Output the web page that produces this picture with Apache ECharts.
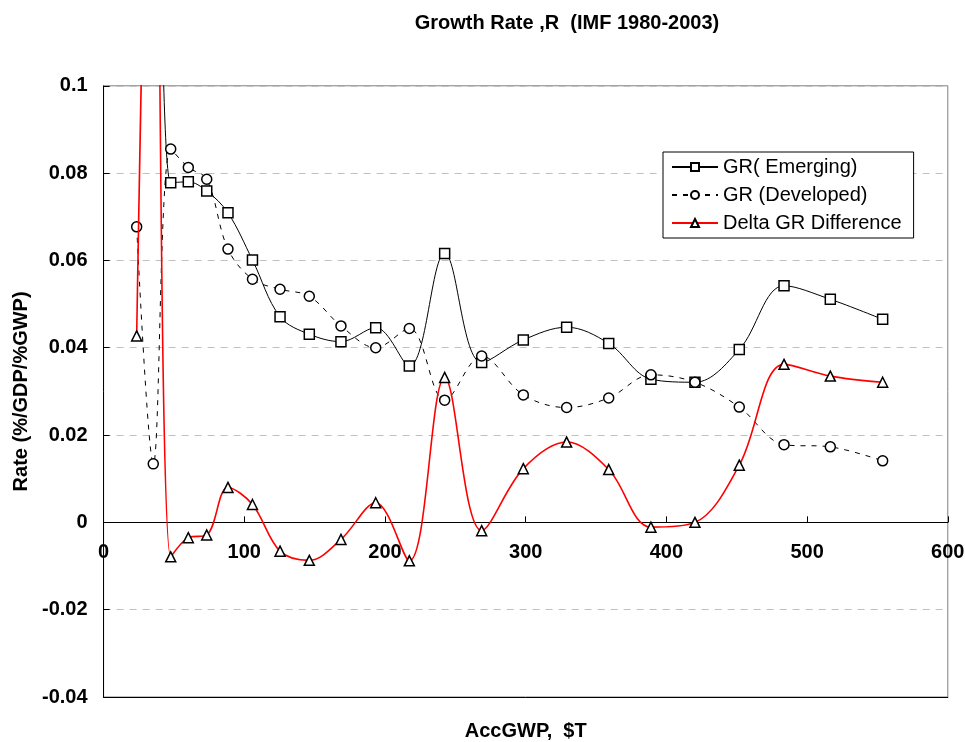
<!DOCTYPE html>
<html><head><meta charset="utf-8">
<script src="https://cdn.jsdelivr.net/npm/echarts@6/dist/echarts.min.js"></script>
<style>html,body{margin:0;padding:0;background:#fff}#c{width:965px;height:742px}</style>
</head><body><div id="c"></div>
<script>
const accGWP = [23.5, 35.3, 47.7, 60.2, 73.3, 88.4, 105.8, 125.4, 146.2, 168.7, 193.4, 217.3, 242.4, 268.7, 298.3, 329.1, 359.0, 389.0, 420.3, 451.8, 483.6, 516.5, 553.7];
const grEmerging = [0.11, 0.21, 0.0778, 0.0780, 0.0759, 0.0709, 0.0601, 0.0471, 0.0431, 0.0414, 0.0446, 0.0358, 0.0616, 0.0366, 0.0418, 0.0447, 0.0410, 0.0328, 0.0321, 0.0396, 0.0542, 0.0511, 0.0465];
const grDeveloped = [0.0677, 0.0134, 0.0855, 0.0813, 0.0786, 0.0626, 0.0557, 0.0534, 0.0518, 0.0450, 0.0400, 0.0444, 0.0280, 0.0381, 0.0292, 0.0263, 0.0285, 0.0338, 0.0321, 0.0264, 0.0178, 0.0173, 0.0141];
const deltaGR = [0.0427, 0.20, -0.0079, -0.0035, -0.0029, 0.0080, 0.0041, -0.0066, -0.0087, -0.0039, 0.0045, -0.0088, 0.0332, -0.0019, 0.0123, 0.0184, 0.0121, -0.0011, 0.0000, 0.0131, 0.0362, 0.0335, 0.0321];
const yTickLabels = ['-0.04', '-0.02', '0', '0.02', '0.04', '0.06', '0.08', '0.1'];
const xTickLabels = ['0', '100', '200', '300', '400', '500', '600'];
const Y_MIN = -0.04, Y_MAX = 0.1;

const FONT = 'Liberation Sans, Arial, sans-serif';
const GRID = {left: 103.6, right: 17.2, top: 85.8, bottom: 45};
const plotH = 742 - GRID.top - GRID.bottom;
const zeroOffset = -plotH * (0 - Y_MIN) / (Y_MAX - Y_MIN);
const pair = arr => accGWP.map((x, i) => [x, arr[i]]);
const chart = echarts.init(document.getElementById('c'), null, {renderer: 'canvas'});
const mk = {color: '#fff', borderColor: '#000', borderWidth: 1.5};
chart.setOption({
  animation: false,
  backgroundColor: '#fff',
  title: {
    text: 'Growth Rate ,R  (IMF 1980-2003)',
    left: 562, top: 8, textAlign: 'center',
    textStyle: {fontFamily: FONT, fontWeight: 'bold', fontSize: 20, color: '#000'}
  },
  legend: {
    orient: 'vertical', left: 663, top: 152,
    backgroundColor: '#fff', borderColor: '#000', borderWidth: 1,
    padding: [5, 12, 5, 8], itemGap: 8, itemWidth: 46, itemHeight: 10,
    textStyle: {fontFamily: FONT, fontSize: 20, color: '#000'},
    data: ['GR( Emerging)', 'GR (Developed)', 'Delta GR Difference']
  },
  grid: Object.assign({show: true, borderColor: '#808080', borderWidth: 1, outerBoundsMode: 'none', containLabel: false}, GRID),
  xAxis: [{
    type: 'value', min: 0, max: 600, interval: 100, position: 'bottom', offset: zeroOffset,
    axisLine: {onZero: false, lineStyle: {color: '#000', width: 1}},
    axisTick: {inside: true, length: 6, lineStyle: {color: '#000'}},
    axisLabel: {fontFamily: FONT, fontWeight: 'bold', fontSize: 20, color: '#000', margin: 20,
      formatter: v => xTickLabels[Math.round(v / 100)]},
    splitLine: {show: false}
  }, {
    type: 'value', min: 0, max: 600, position: 'bottom',
    axisLine: {onZero: false, lineStyle: {color: '#000', width: 1}},
    axisTick: {show: false}, axisLabel: {show: false}, splitLine: {show: false},
    name: 'AccGWP,  $T', nameLocation: 'middle', nameGap: 24,
    nameTextStyle: {fontFamily: FONT, fontWeight: 'bold', fontSize: 20, color: '#000'}
  }],
  yAxis: {
    type: 'value', min: Y_MIN, max: Y_MAX, interval: 0.02,
    axisLine: {show: true, onZero: false, lineStyle: {color: '#000', width: 1}},
    axisTick: {show: true, inside: true, length: 6, lineStyle: {color: '#000'}},
    axisLabel: {fontFamily: FONT, fontWeight: 'bold', fontSize: 20, color: '#000', margin: 16,
      formatter: v => yTickLabels[Math.round((v - Y_MIN) / 0.02)]},
    splitLine: {show: true, lineStyle: {color: '#c0c0c0', type: [7, 6], width: 1}},
    name: 'Rate (%/GDP/%GWP)', nameLocation: 'middle', nameGap: 71, nameRotate: 90,
    nameTextStyle: {fontFamily: FONT, fontWeight: 'bold', fontSize: 20, color: '#000'}
  },
  series: [{
    name: 'GR( Emerging)', type: 'line', data: pair(grEmerging), smooth: 0.35, clip: true,
    symbol: 'rect', symbolSize: 10, showAllSymbol: true,
    lineStyle: {color: '#000', width: 1}, itemStyle: mk, z: 3
  }, {
    name: 'GR (Developed)', type: 'line', data: pair(grDeveloped), smooth: 0.35, clip: true,
    symbol: 'circle', symbolSize: 10, showAllSymbol: true,
    lineStyle: {color: '#000', width: 1, type: [5, 6]}, itemStyle: mk, z: 3
  }, {
    name: 'Delta GR Difference', type: 'line', data: pair(deltaGR), smooth: 0.35, clip: true,
    symbol: 'triangle', symbolSize: 10, showAllSymbol: true,
    lineStyle: {color: '#ff0000', width: 1.6}, itemStyle: mk, z: 4
  }]
});
</script></body></html>
